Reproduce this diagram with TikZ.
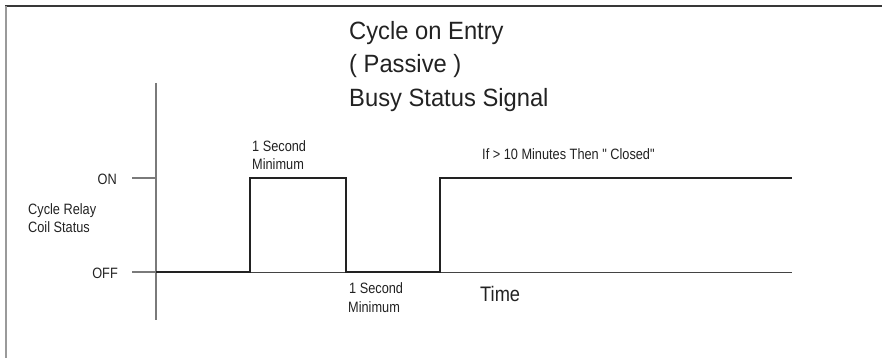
\documentclass[tikz,border=0pt]{standalone}
\usepackage{fontspec}
\setmainfont{Liberation Sans}
\newfontfamily\narrowfont{Liberation Sans}[FakeStretch=0.85]
\newfontfamily\headfont{Liberation Sans}[FakeStretch=0.95]
\newfontfamily\timefont{Liberation Sans}[FakeStretch=0.87]
\usepackage{tikz}

\definecolor{inkdark}{HTML}{222222}
\definecolor{axisgrey}{HTML}{7A7A7A}
\definecolor{framegrey}{HTML}{9A9A9A}

\tikzset{
	lbl/.style={inner sep=0pt, text=inkdark, font=\narrowfont\fontsize{15}{17}\selectfont},
	headlbl/.style={inner sep=0pt, text=inkdark, anchor=base west, font=\headfont\fontsize{25}{30}\selectfont},
	signal/.style={line width=2.2pt, inkdark, line join=miter},
	axisline/.style={line width=1.2pt, axisgrey}
}

\begin{document}
\begin{tikzpicture}[x=1pt, y=-1pt]
		\useasboundingbox (0,0) rectangle (882,358);
		% frame edges
		\draw[line width=1.5pt, inkdark!90] (5,6) -- (882,6);
		\draw[line width=2pt, framegrey] (6,6) -- (6,358);

		% title
		\node[headlbl] (title1) at (349,40) {Cycle on Entry};
		\node[headlbl] (title2) at (349,73) {( Passive )};
		\node[headlbl] (title3) at (349,107) {Busy Status Signal};

		% axes and level ticks
		\draw[axisline] (156,83) -- (156,320);
		\draw[axisline] (132,178) -- (156,178);
		\draw[axisline] (132,272) -- (156,272);
		\draw[line width=1pt, inkdark!85] (156,272) -- (792,272);
		\node[lbl, anchor=base east] (on) at (117,184) {ON};
		\node[lbl, anchor=base east] (off) at (118,278) {OFF};
		\node[lbl, anchor=base west] (ylab1) at (28,214) {Cycle Relay};
		\node[lbl, anchor=base west] (ylab2) at (28,232) {Coil Status};

		% coil status trace
		\draw[signal] (156,272) -- (250,272) -- (250,178) -- (346,178) -- (346,272)
			-- (440,272) -- (440,178) -- (792,178);

		% pulse notes
		\node[lbl, anchor=base west] (hi1) at (252,152) {1 Second};
		\node[lbl, anchor=base west] (hi2) at (252,169) {Minimum};
		\node[lbl, anchor=base west] (lo1) at (349,293) {1 Second};
		\node[lbl, anchor=base west] (lo2) at (348,312) {Minimum};
		\node[lbl, anchor=base west] (closed) at (482,160) {If > 10 Minutes Then " Closed"};
		\node[inner sep=0pt, text=inkdark, anchor=base west, font=\timefont\fontsize{21}{24}\selectfont] (time) at (480,301) {Time};
\end{tikzpicture}
\end{document}
